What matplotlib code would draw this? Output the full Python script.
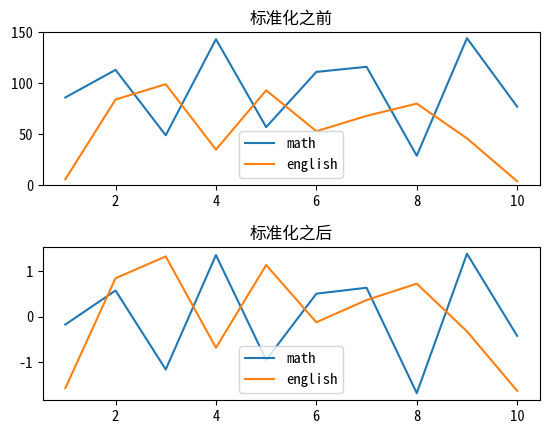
import numpy as np
import matplotlib.pyplot as plt

plt.rcParams['font.family'] = ['Noto Sans Mono CJK SC', 'Noto Sans CJK SC', 'DejaVu Sans Mono']
plt.rcParams['axes.unicode_minus'] = False

x = [1, 2, 3, 4, 5, 6, 7, 8, 9, 10]
math_raw = [86, 113, 49, 143, 57, 111, 116, 29, 144, 77]
english_raw = [6, 84, 99, 35, 93, 53, 68, 80, 46, 4]
math_std = [-0.17, 0.58, -1.16, 1.36, -0.95, 0.51, 0.64, -1.68, 1.39, -0.42]
english_std = [-1.57, 0.85, 1.33, -0.68, 1.14, -0.12, 0.37, 0.73, -0.32, -1.63]

fig, (ax1, ax2) = plt.subplots(2, 1, figsize=(5.48, 4.33), dpi=100)
fig.subplots_adjust(left=0.078, right=0.985, top=0.926, bottom=0.076, hspace=0.4)

ax1.plot(x, math_raw, label='math')
ax1.plot(x, english_raw, label='english')
ax1.set_title('标准化之前')
ax1.set_ylim(0, 150)
ax1.set_yticks([0, 50, 100, 150])
ax1.legend(loc='lower center', prop={'size': 10.5})

ax2.plot(x, math_std, label='math')
ax2.plot(x, english_std, label='english')
ax2.set_title('标准化之后')
ax2.set_yticks([-1, 0, 1])
ax2.legend(loc='lower center', prop={'size': 10.5})

for ax in (ax1, ax2):
    ax.tick_params(labelsize=10.5)

fig.savefig('out.png')
